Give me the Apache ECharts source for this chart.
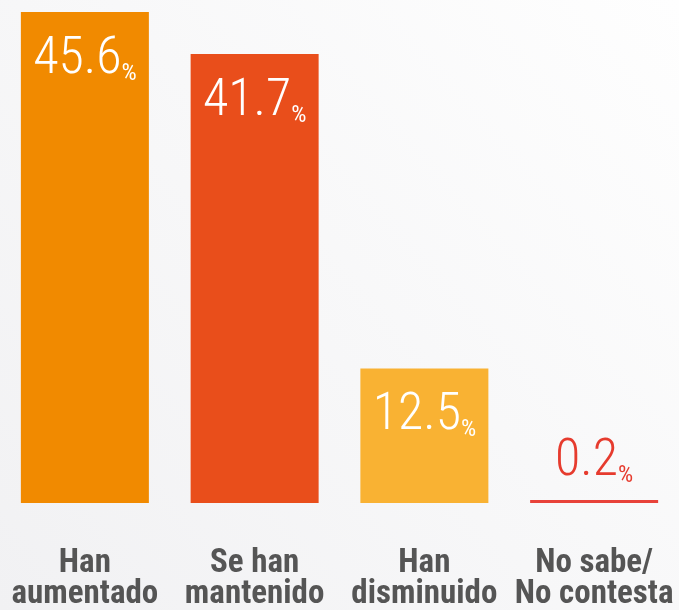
<!DOCTYPE html>
<html>
<head>
<meta charset="utf-8">
<script src="https://cdn.jsdelivr.net/npm/echarts@6/dist/echarts.min.js"></script>
<style>
  html, body { margin: 0; padding: 0; }
  #chart { width: 679px; height: 610px; }
</style>
</head>
<body>
<div id="chart"></div>
<script>
// 数据
const categories = ['Han\naumentado', 'Se han\nmantenido', 'Han\ndisminuido', 'No sabe/\nNo contesta'];
const values = [45.6, 41.7, 12.5, 0.2];
const barColors = ['#F18A00', '#E94E1B', '#F9B233', '#E8423A'];

(function () {
    const myChart = echarts.init(document.getElementById('chart'));
    const numFont = '"Roboto Condensed", "Liberation Sans Narrow", "DejaVu Sans Condensed", sans-serif';

    const option = {
        backgroundColor: new echarts.graphic.LinearGradient(1, 0, 0, 1, [
            { offset: 0, color: '#fefefe' },
            { offset: 1, color: '#f1f1f3' }
        ]),
        grid: {
            left: 0,
            right: 0,
            top: 12,
            bottom: 107,
            containLabel: false,
            outerBoundsMode: 'none'
        },
        xAxis: {
            type: 'category',
            data: categories,
            axisLine: { show: false },
            axisTick: { show: false },
            axisLabel: {
                interval: 0,
                color: '#555555',
                fontFamily: numFont,
                fontWeight: 'bold',
                fontSize: 33,
                lineHeight: 31,
                margin: 45
            }
        },
        yAxis: {
            type: 'value',
            min: 0,
            max: 45.6,
            show: false,
            splitLine: { show: false }
        },
        series: [
            {
                type: 'bar',
                barWidth: 128,
                data: values.map((v, i) => {
                    const item = {
                        value: v,
                        itemStyle: { color: barColors[i] }
                    };
                    if (i === values.length - 1) {
                        item.label = {
                            position: 'top',
                            distance: 12,
                            rich: {
                                n: { color: '#E63B2E' },
                                p: { color: '#E63B2E' }
                            }
                        };
                    }
                    return item;
                }),
                barMinHeight: 3,
                label: {
                    show: true,
                    position: 'insideTop',
                    distance: 24,
                    formatter: (p) => '{n|' + p.value + '}{p|%}',
                    rich: {
                        n: {
                            color: '#fff',
                            fontFamily: numFont,
                            fontWeight: 300,
                            fontSize: 52,
                            lineHeight: 50,
                            verticalAlign: 'bottom'
                        },
                        p: {
                            color: '#fff',
                            fontFamily: numFont,
                            fontSize: 24,
                            lineHeight: 36,
                            verticalAlign: 'bottom'
                        }
                    }
                }
            }
        ]
    };
    myChart.setOption(option);
    window.addEventListener('resize', () => {
        myChart.resize();
    });
})();
</script>
</body>
</html>
